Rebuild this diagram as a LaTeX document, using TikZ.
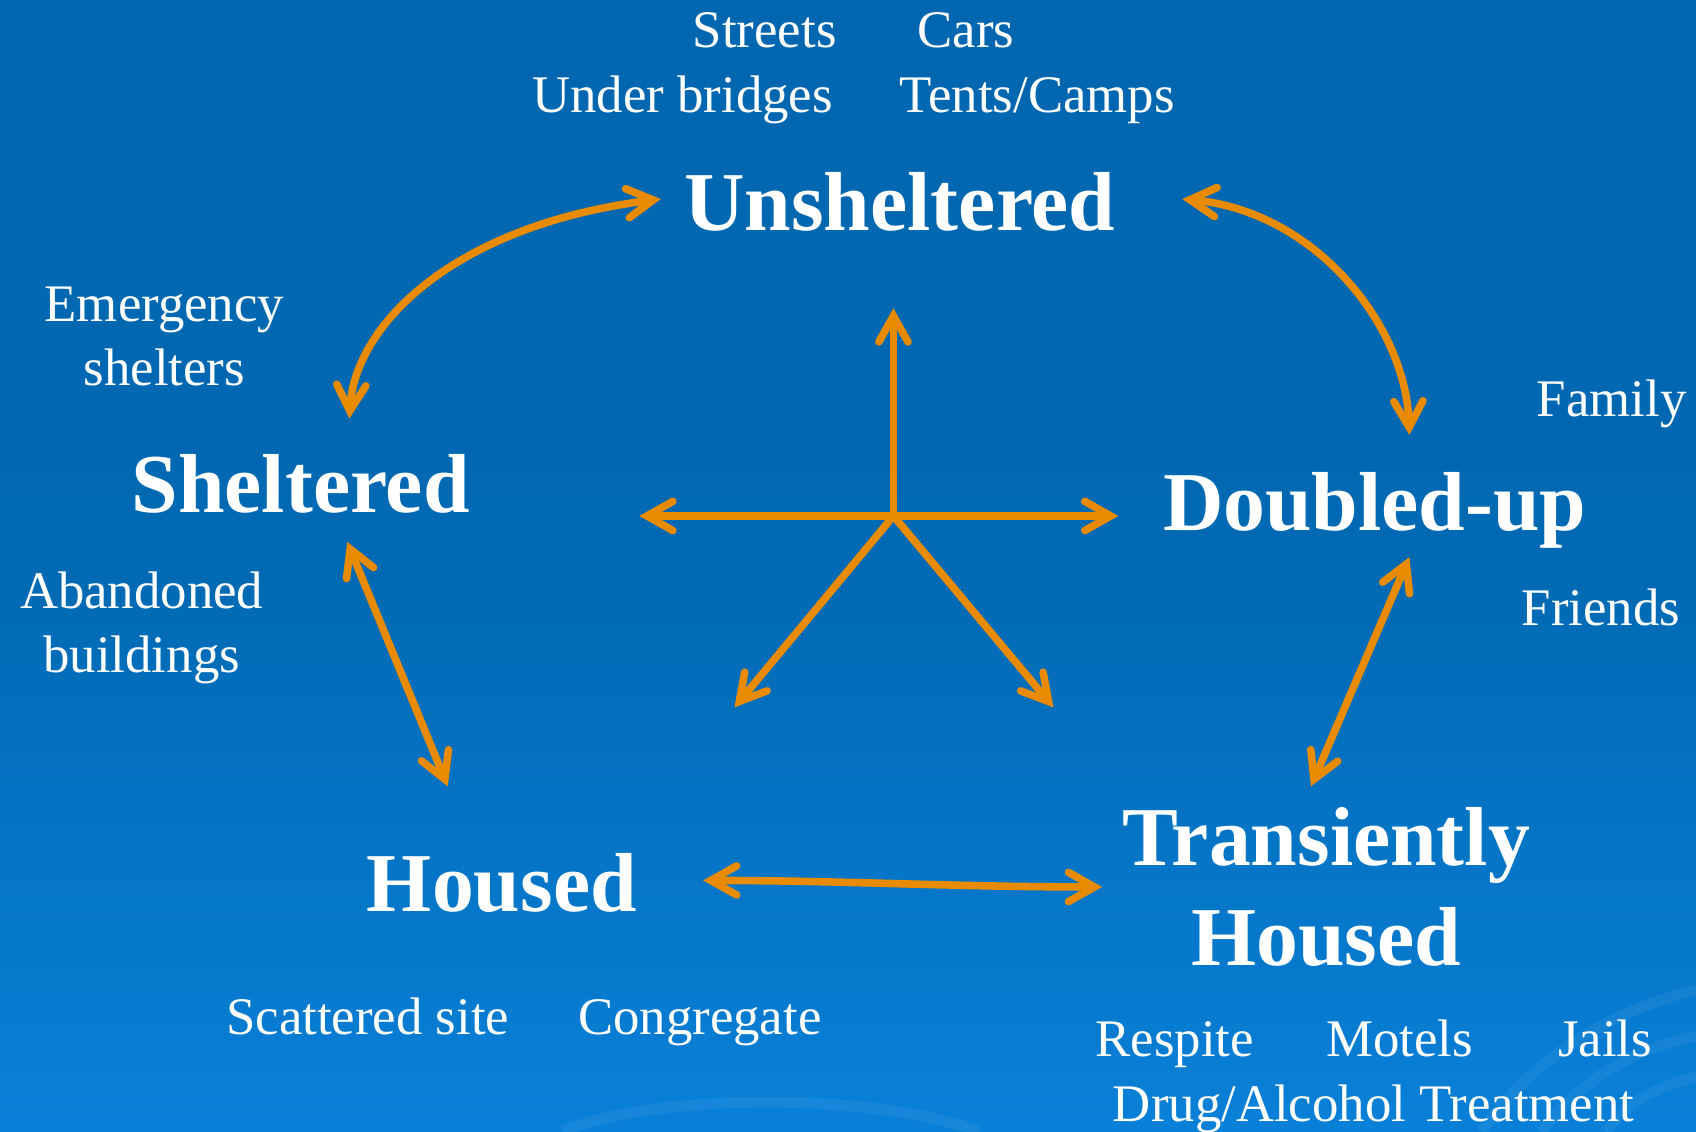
\documentclass[tikz,border=0pt]{standalone}
\usepackage{fontspec}
\setmainfont{Liberation Serif}
\usetikzlibrary{arrows.meta}
\definecolor{bgtop}{HTML}{0066AF}
\definecolor{bgmid}{HTML}{0069B3}
\definecolor{bgbot}{HTML}{0980D8}
\definecolor{arr}{HTML}{E98B00}
\begin{document}
\begin{tikzpicture}[x=0.5pt,y=-0.5pt,
  big/.style={text=white, font=\fontsize{38.7}{40}\selectfont\bfseries, inner sep=0pt, anchor=base},
  small/.style={text=white, font=\fontsize{24.4}{26}\selectfont, inner sep=0pt, anchor=base},
  tipbarb/.tip={Straight Barb[length=12pt,width=13.5pt,line cap=round]},
  link/.style={draw=arr, line width=3.5pt, line cap=round, tipbarb-tipbarb},
  ray/.style={draw=arr, line width=3.5pt, line cap=round, -tipbarb},
  swirl/.style={draw=white, draw opacity=0.06, line width=5pt}]
\useasboundingbox (0,0) rectangle (1568,1046);
\shade[top color=bgtop, bottom color=bgbot, middle color=bgmid] (0,0) rectangle (1568,1046);
% faint swirls
\draw[swirl] (1370,1046) .. controls (1420,975) and (1490,935) .. (1568,915);
\draw[swirl] (1425,1046) .. controls (1465,995) and (1515,968) .. (1568,958);
\draw[swirl] (1485,1046) .. controls (1505,1018) and (1535,1003) .. (1568,996);
\draw[swirl] (520,1046) .. controls (600,1012) and (800,1008) .. (905,1046);
% main labels
\node[big] (unsh) at (832,213) {Unsheltered};
\node[big] (shel) at (278,474) {Sheltered};
\node[big] (doub) at (1271,490) {Doubled-up};
\node[big] (hous) at (464,843) {Housed};
\node[big] (tran1) at (1226,800) {Transiently};
\node[big] (tran2) at (1226,893) {Housed};
% small labels
\node[small] (streets) at (707,44) {Streets};
\node[small] (cars) at (893,44) {Cars};
\node[small] (bridges) at (631,104) {Under bridges};
\node[small] (tents) at (959,104) {Tents/Camps};
\node[small] (emerg) at (152,297) {Emergency};
\node[small] (shelters) at (152,356) {shelters};
\node[small] (aband) at (131,563) {Abandoned};
\node[small] (build) at (131,622) {buildings};
\node[small] (family) at (1490,385) {Family};
\node[small] (friends) at (1480,578) {Friends};
\node[small] (scat) at (340,956) {Scattered site};
\node[small] (congr) at (647,956) {Congregate};
\node[small] (resp) at (1086,977) {Respite};
\node[small] (motels) at (1294,977) {Motels};
\node[small] (jails) at (1484,977) {Jails};
\node[small] (drug) at (1270,1037) {Drug/Alcohol Treatment};
% arrow end points
\coordinate (c) at (826,477);
\coordinate (su) at (826,285);
\coordinate (sl) at (591,477);
\coordinate (sr) at (1034,477);
\coordinate (sdl) at (679,654);
\coordinate (sdr) at (974,654);
\coordinate (shTop) at (323,387);
\coordinate (unL) at (611,184);
\coordinate (unR) at (1093,184);
\coordinate (dbTop) at (1303,402);
\coordinate (shBot) at (321,501);
\coordinate (hoTop) at (414,727);
\coordinate (dbBot) at (1303,515);
\coordinate (trTop) at (1212,727);
\coordinate (hoR) at (650,814);
\coordinate (trL) at (1019,820);
% star
\draw[ray] (c) -- (su);
\draw[ray] (c) -- (sl);
\draw[ray] (c) -- (sr);
\draw[ray] (c) -- (sdl);
\draw[ray] (c) -- (sdr);
% cycle
\draw[link] (shTop) .. controls (328,300) and (420,208) .. (unL);
\draw[link] (unR) .. controls (1215,195) and (1300,300) .. (dbTop);
\draw[link] (shBot) -- (hoTop);
\draw[link] (dbBot) -- (trTop);
\draw[link] (hoR) .. controls (780,814) and (880,820) .. (trL);
\end{tikzpicture}
\end{document}
